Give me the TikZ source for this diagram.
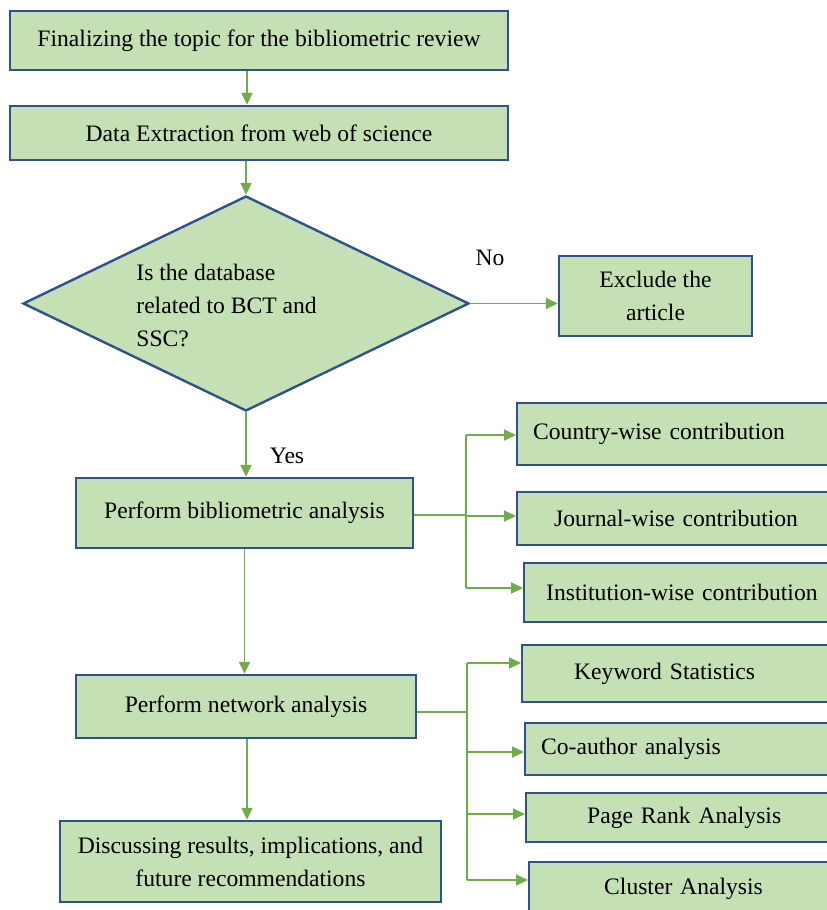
\documentclass[tikz,border=0pt]{standalone}
\usepackage{fontspec}
\setmainfont{Liberation Serif}
\usetikzlibrary{shapes.geometric,arrows.meta}
\definecolor{boxfill}{HTML}{C5E0B4}
\definecolor{boxline}{HTML}{2F528F}
\definecolor{arrgreen}{HTML}{70AD47}
\begin{document}
\begin{tikzpicture}[x=0.5pt,y=-0.5pt,
  font=\fontsize{11.8}{16.5}\selectfont,
  box/.style={draw=boxline,fill=boxfill,line width=1.2pt,inner sep=0pt,align=center},
  rbox/.style={box,anchor=west,inner xsep=0pt,text width=162pt,align=left},
  arr/.style={draw=arrgreen,line width=0.9pt,-{Triangle[length=6pt,width=5.5pt]}},
  ln/.style={draw=arrgreen,line width=0.9pt}]
\useasboundingbox (0,0) rectangle (826,910);
% main column
\node[box,minimum width=249pt,minimum height=29.5pt] (b1) at (259,40.5) {Finalizing the topic for the bibliometric review};
\node[box,minimum width=249pt,minimum height=27pt] (b2) at (259,133) {Data Extraction from web of science};
\node[draw=boxline,fill=boxfill,line width=1.2pt,diamond,inner sep=0pt,minimum width=223pt,minimum height=107.5pt] (dia) at (246,303.5) {};
\node[anchor=west,align=left,inner sep=0pt] (diat) at (136,305) {Is the database\\related to BCT and\\SSC?};
\node[box,minimum width=96.5pt,minimum height=40pt] (excl) at (655.5,296) {Exclude the\\article};
\node[inner sep=0pt] (no) at (490,258) {No};
\node[inner sep=0pt] (yes) at (287,456) {Yes};
\node[box,minimum width=168.5pt,minimum height=35pt] (bib) at (244.5,513) {Perform bibliometric analysis};
\node[box,minimum width=170pt,minimum height=31.5pt] (net) at (246,706.5) {Perform network analysis};
\node[box,minimum width=190.5pt,minimum height=40.5pt] (disc) at (250.5,861.5) {Discussing results, implications, and\\future recommendations};
% right boxes
\node[rbox,minimum height=31pt] (cty) at (516,434) {\hspace*{8pt}Country-wise contribution};
\node[rbox,minimum height=26.5pt] (jrn) at (516,518.5) {\hspace*{18.5pt}Journal-wise contribution};
\node[rbox,minimum height=29.5pt] (ins) at (523,592.5) {\hspace*{11pt}Institution-wise contribution};
\node[rbox,minimum height=28.5pt] (kw) at (521,673.5) {\hspace*{26pt}Keyword Statistics};
\node[rbox,minimum height=26pt] (coa) at (524,749) {\hspace*{8pt}Co-author analysis};
\node[rbox,minimum height=24.5pt] (pr) at (525,817.5) {\hspace*{30.5pt}Page Rank Analysis};
\node[rbox,minimum height=26.5pt] (cl) at (528,888.5) {\hspace*{37.5pt}Cluster Analysis};
% connectors main
\coordinate (ax) at (247,0);
\draw[arr] (b1.south -| ax) -- (b2.north -| ax);
\draw[arr] (b2.south -| dia.north) -- (dia.north);
\draw[arr] (dia.east) -- (dia.east -| excl.west);
\draw[arr] (dia.south) -- (dia.south |- bib.north);
\draw[arr] (bib.south) -- (net.north -| bib.south);
\draw[arr] (net.south -| ax) -- (disc.north -| ax);
% branch 1
\coordinate (j1) at (466,515);
\coordinate (c1) at (466,435);
\coordinate (c2) at (466,516);
\coordinate (c3) at (466,588);
\draw[ln] (bib.east |- j1) -- (j1);
\draw[ln] (c1) -- (c3);
\draw[arr] (c1) -- (c1 -| cty.west);
\draw[arr] (c2) -- (c2 -| jrn.west);
\draw[arr] (c3) -- (c3 -| ins.west);
% branch 2
\coordinate (j2) at (467,712);
\coordinate (k1) at (467,663);
\coordinate (k2) at (467,752);
\coordinate (k3) at (467,814);
\coordinate (k4) at (467,880);
\draw[ln] (net.east |- j2) -- (j2);
\draw[ln] (k1) -- (k4);
\draw[arr] (k1) -- (k1 -| kw.west);
\draw[arr] (k2) -- (k2 -| coa.west);
\draw[arr] (k3) -- (k3 -| pr.west);
\draw[arr] (k4) -- (k4 -| cl.west);
\end{tikzpicture}
\end{document}
